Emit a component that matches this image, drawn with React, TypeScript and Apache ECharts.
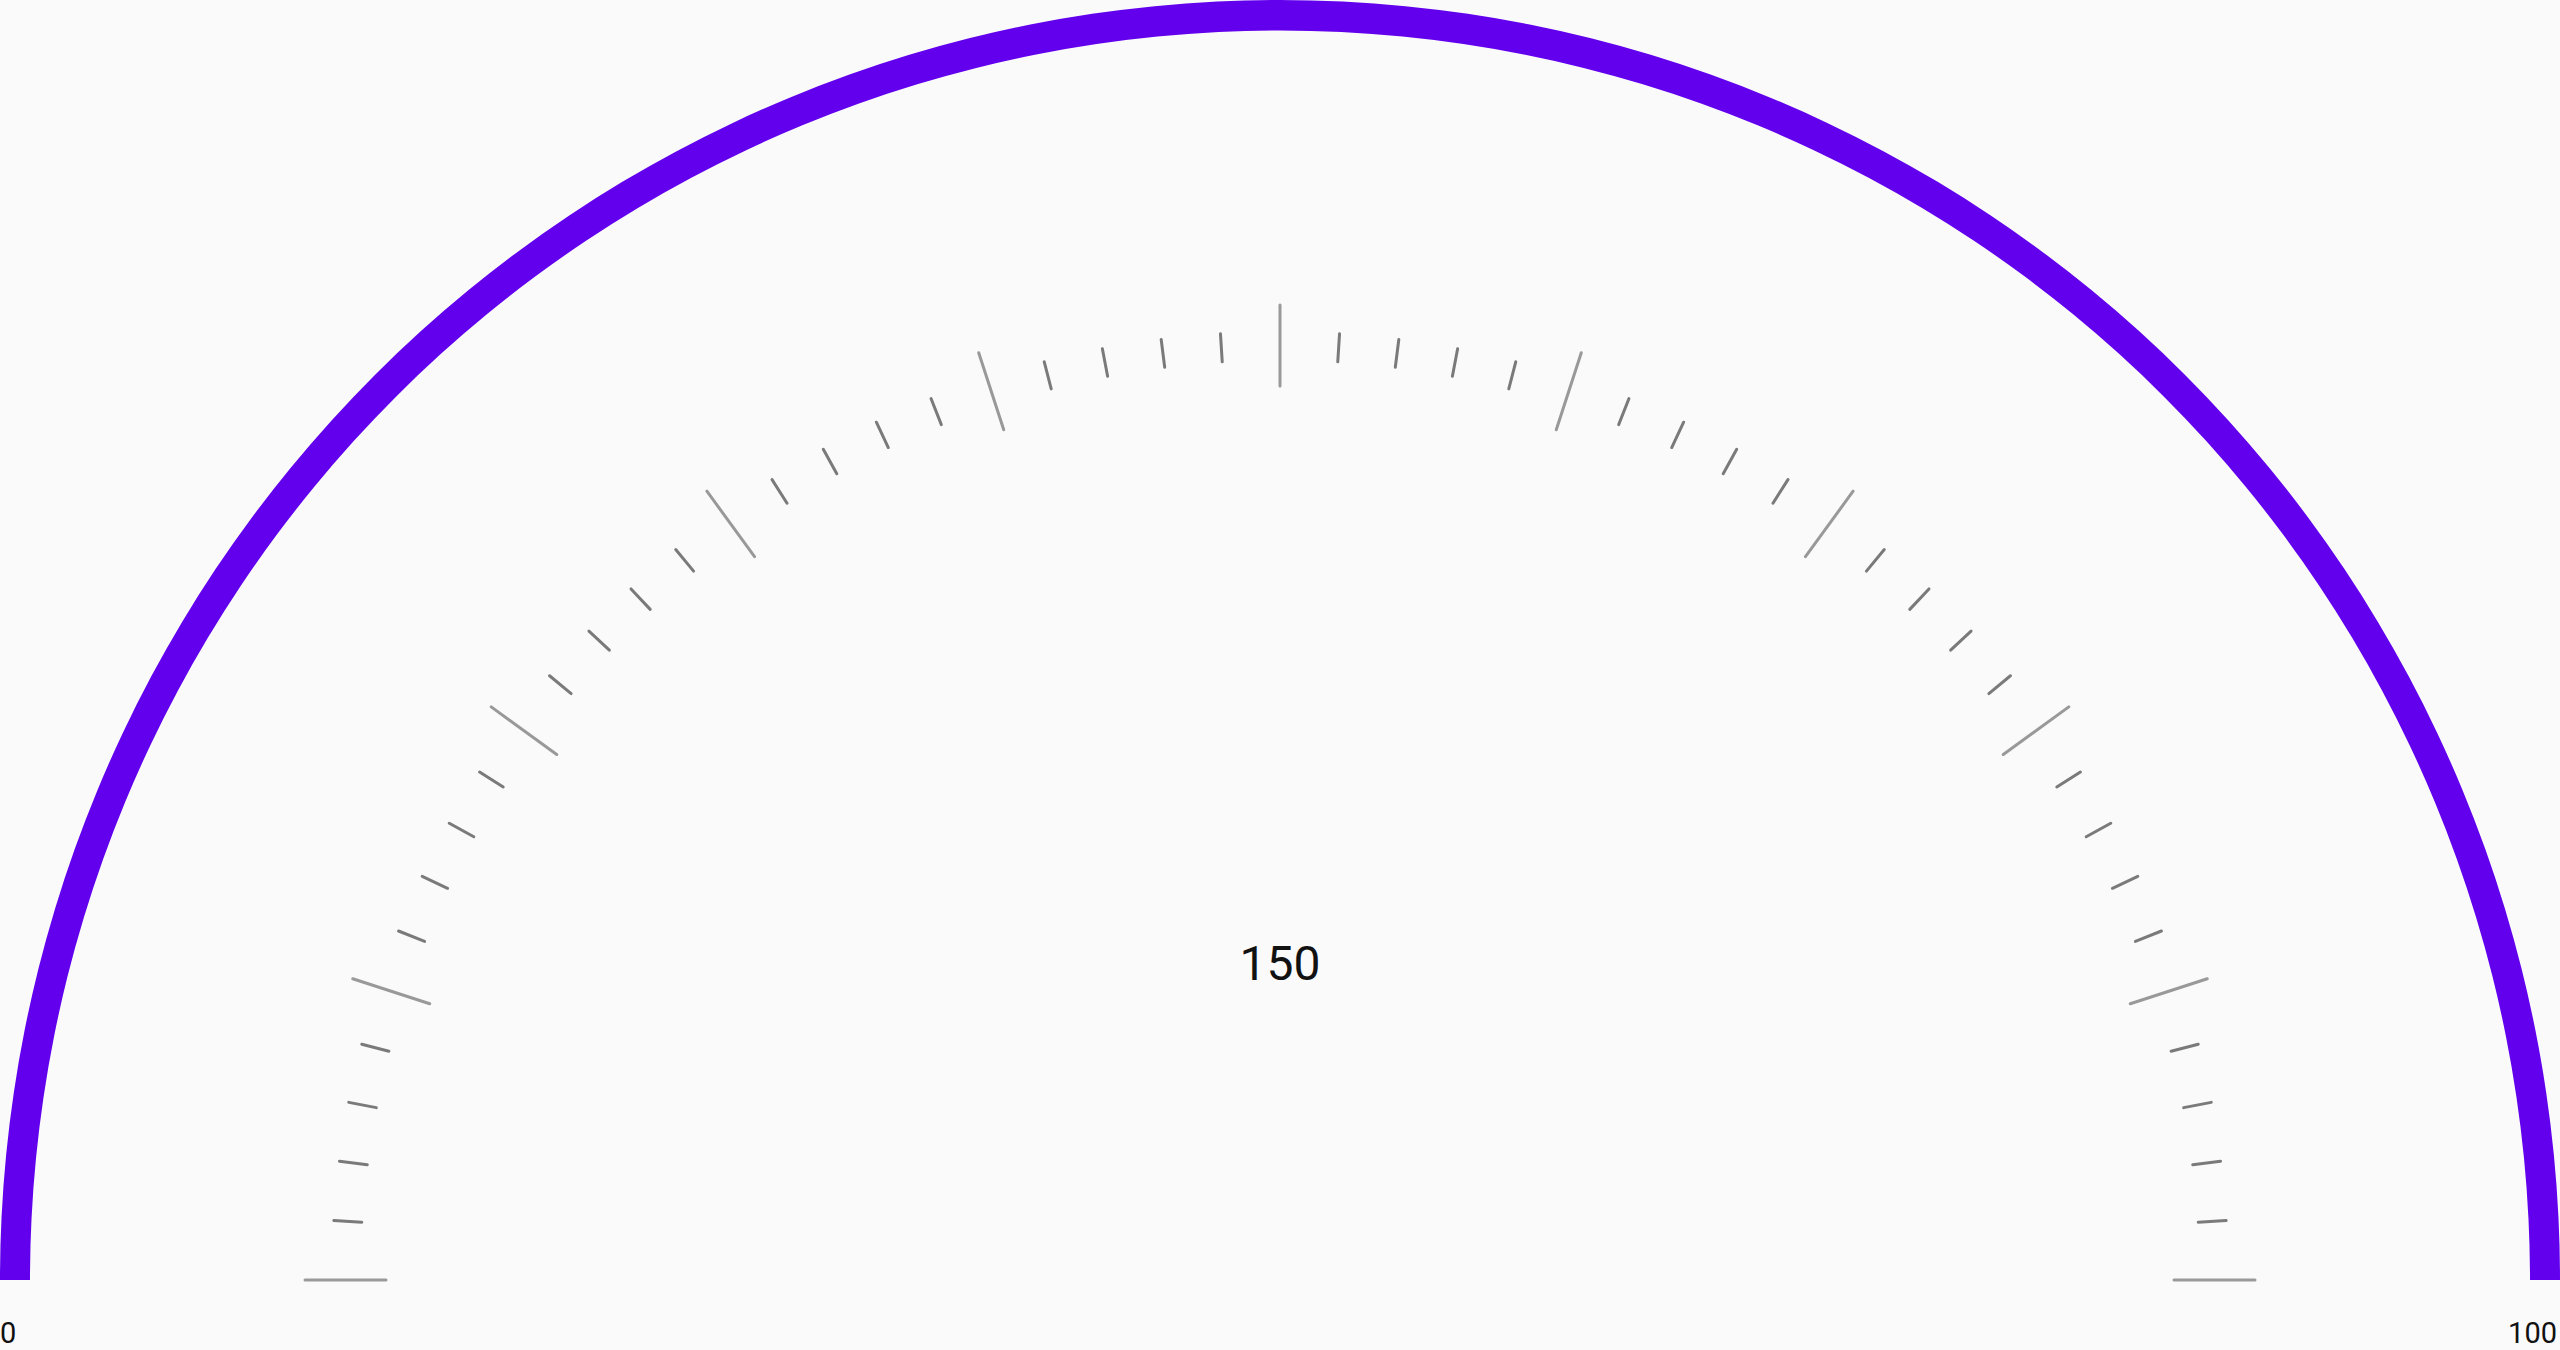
import React, { useEffect, useRef } from "react";
import * as echarts from "echarts";

const gaugeMin = 0;
const gaugeMax = 100;
const gaugeValue = [150];
const endLabels = ["0", "100"];
const splitCount = 10;
const minorPerSplit = 5;

export default function App() {
  const ref = useRef<HTMLDivElement>(null);
  useEffect(() => {
    if (!ref.current) return;
    const chart = echarts.init(ref.current, undefined, { renderer: "svg" });
    const startA = 180;
    const endA = 0;
    const splitDeg = (startA - endA) / splitCount;
    const minorDeg = splitDeg / minorPerSplit;
    const common = {
      type: "gauge",
      center: [1280, 1280],
      radius: 1280,
      min: gaugeMin,
      max: gaugeMax,
      progress: { show: false },
      pointer: { show: false },
      anchor: { show: false },
      axisLabel: { show: false },
      title: { show: false },
      axisTick: { show: false },
    };
    const minorSeries = [];
    for (let k = 1; k < minorPerSplit; k++) {
      const s = startA - minorDeg * k;
      minorSeries.push({
        ...common,
        z: 1,
        startAngle: s,
        endAngle: s - splitDeg * (splitCount - 1),
        splitNumber: splitCount - 1,
        axisLine: {
          lineStyle: { width: 30, color: [[1, "rgba(0,0,0,0)"]] },
        },
        splitLine: {
          distance: 302,
          length: 28,
          lineStyle: { color: "#7a7a7a", width: 3, cap: "round" },
        },
        detail: { show: false },
        data: [],
      });
    }
    chart.setOption({
      animation: false,
      backgroundColor: "#fafafa",
      series: [
        ...minorSeries,
        {
          ...common,
          z: 3,
          startAngle: startA,
          endAngle: endA,
          splitNumber: splitCount,
          axisLine: {
            lineStyle: { width: 30, color: [[1, "#6200ee"]] },
          },
          splitLine: {
            distance: 275,
            length: 81,
            lineStyle: { color: "#999999", width: 3, cap: "round" },
          },
          detail: {
            show: true,
            offsetCenter: [0, -317],
            fontSize: 48,
            fontWeight: "normal",
            fontFamily: "Roboto",
            color: "#111111",
            formatter: "{value}",
          },
          data: gaugeValue.map((v) => ({ value: v })),
        },
      ],
      graphic: [
        {
          type: "text",
          left: 0,
          top: 1318,
          style: {
            text: endLabels[0],
            font: "29px Roboto",
            fill: "#111111",
          },
        },
        {
          type: "text",
          right: 3,
          top: 1318,
          style: {
            text: endLabels[1],
            font: "29px Roboto",
            fill: "#111111",
          },
        },
      ],
    });
    return () => chart.dispose();
  }, []);
  return (
    <div
      ref={ref}
      style={{ position: "absolute", left: 0, top: 0, width: 2560, height: 1350 }}
    />
  );
}
